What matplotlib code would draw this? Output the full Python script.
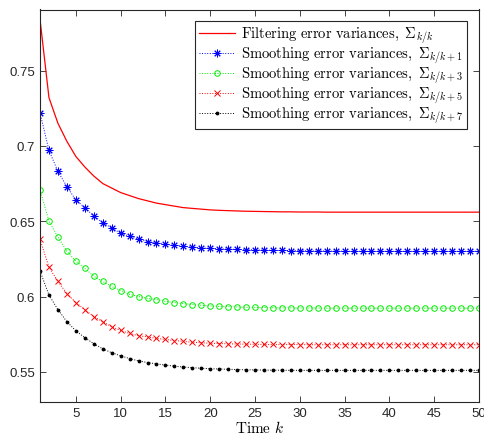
import matplotlib
matplotlib.use('Agg')
import matplotlib.pyplot as plt
from matplotlib.ticker import FormatStrFormatter

plt.rcParams['mathtext.fontset'] = 'cm'
plt.rcParams['font.family'] = ['Liberation Sans', 'DejaVu Sans']

# Time steps
k = list(range(1, 51))

# Filtering error variances
filt = [0.784, 0.732, 0.715, 0.703, 0.693, 0.686, 0.680, 0.675, 0.672, 0.669,
        0.667, 0.665, 0.6635, 0.662, 0.661, 0.660, 0.659, 0.6585, 0.658, 0.6575,
        0.6572, 0.6570, 0.6568, 0.6566, 0.6565, 0.6564, 0.6563, 0.6562, 0.6562, 0.6561,
        0.6561, 0.6561, 0.6560, 0.6560, 0.6560, 0.6560, 0.6560, 0.6560, 0.6560, 0.6560,
        0.6560, 0.6560, 0.6560, 0.6560, 0.6560, 0.6560, 0.6560, 0.6560, 0.6560, 0.6560]

# Smoothing error variances, lag 1
smooth1 = [0.722, 0.697, 0.683, 0.673, 0.664, 0.659, 0.6535, 0.649, 0.6455, 0.642,
           0.640, 0.638, 0.6365, 0.6355, 0.6347, 0.634, 0.6333, 0.6328, 0.6323, 0.632,
           0.6317, 0.6315, 0.6313, 0.6311, 0.631, 0.6308, 0.6307, 0.6306, 0.6305, 0.6304,
           0.6303, 0.6302, 0.6302, 0.6301, 0.6301, 0.6300, 0.6300, 0.6300, 0.6300, 0.6300,
           0.6300, 0.6300, 0.6300, 0.6300, 0.6300, 0.6300, 0.6300, 0.6300, 0.6300, 0.6300]

# Smoothing error variances, lag 3
smooth3 = [0.671, 0.650, 0.6395, 0.630, 0.6235, 0.6187, 0.6135, 0.610, 0.6067, 0.604,
           0.6015, 0.600, 0.5988, 0.598, 0.5968, 0.596, 0.5953, 0.5947, 0.5942, 0.5938,
           0.5935, 0.5933, 0.5931, 0.5929, 0.5928, 0.5927, 0.5926, 0.5925, 0.5925, 0.5924,
           0.5924, 0.5924, 0.5923, 0.5923, 0.5923, 0.5923, 0.5923, 0.5923, 0.5923, 0.5923,
           0.5923, 0.5923, 0.5923, 0.5923, 0.5923, 0.5923, 0.5923, 0.5923, 0.5923, 0.5923]

# Smoothing error variances, lag 5
smooth5 = [0.638, 0.6195, 0.610, 0.602, 0.596, 0.5913, 0.5867, 0.5833, 0.580, 0.5775,
           0.5755, 0.574, 0.5732, 0.5722, 0.5715, 0.5708, 0.5702, 0.5697, 0.5693, 0.569,
           0.5688, 0.5686, 0.5685, 0.5684, 0.5683, 0.5682, 0.5682, 0.5681, 0.5681, 0.5681,
           0.5680, 0.5680, 0.5680, 0.5680, 0.5680, 0.5680, 0.5680, 0.5680, 0.5680, 0.5680,
           0.5680, 0.5680, 0.5680, 0.5680, 0.5680, 0.5680, 0.5680, 0.5680, 0.5680, 0.5680]

# Smoothing error variances, lag 7
smooth7 = [0.617, 0.601, 0.5913, 0.5833, 0.5773, 0.5727, 0.5687, 0.5653, 0.5627, 0.5607,
           0.5588, 0.5573, 0.5562, 0.5553, 0.5545, 0.5538, 0.5532, 0.5528, 0.5524, 0.5521,
           0.5519, 0.5517, 0.5515, 0.5514, 0.5513, 0.5512, 0.5511, 0.5511, 0.5510, 0.5510,
           0.5510, 0.5510, 0.5510, 0.5510, 0.5510, 0.5510, 0.5510, 0.5510, 0.5510, 0.5510,
           0.5510, 0.5510, 0.5510, 0.5510, 0.5510, 0.5510, 0.5510, 0.5510, 0.5510, 0.5510]

fig = plt.figure(figsize=(4.85, 4.39), dpi=100)
ax = fig.add_axes([40 / 485, 36 / 439, 439 / 485, 392.5 / 439])

ax.plot(k, filt, color='red', lw=0.9,
        label=r'$\mathrm{Filtering\ error\ variances},\ \Sigma_{k/k}$')
ax.plot(k, smooth1, color='blue', ls=':', lw=0.7, marker=(8, 2, 0), ms=5.5, mew=0.7,
        label=r'$\mathrm{Smoothing\ error\ variances},\ \Sigma_{k/k+1}$')
ax.plot(k, smooth3, color='#00ee00', ls=':', lw=0.7, marker='o', ms=4, mfc='none', mew=0.7,
        label=r'$\mathrm{Smoothing\ error\ variances},\ \Sigma_{k/k+3}$')
ax.plot(k, smooth5, color='red', ls=':', lw=0.7, marker='x', ms=4.5, mew=0.7,
        label=r'$\mathrm{Smoothing\ error\ variances},\ \Sigma_{k/k+5}$')
ax.plot(k, smooth7, color='black', ls=':', lw=0.7, marker='.', ms=3.5,
        label=r'$\mathrm{Smoothing\ error\ variances},\ \Sigma_{k/k+7}$')

ax.set_xlim(1, 50)
ax.set_ylim(0.53, 0.7905)
ax.set_xticks(range(5, 51, 5))
ax.set_yticks([0.55, 0.6, 0.65, 0.7, 0.75])
ax.yaxis.set_major_formatter(FormatStrFormatter('%g'))
ax.tick_params(direction='in', top=True, right=True, length=4, width=0.6,
               colors='#262626', labelsize=9.5, labelcolor='#262626')
for s in ax.spines.values():
    s.set_color('#262626')
    s.set_linewidth(0.8)

ax.set_xlabel(r'$\mathrm{Time}\ k$', fontsize=11, labelpad=0)

leg = ax.legend(loc='upper right', fontsize=10.5, fancybox=False, framealpha=1,
                edgecolor='#262626', borderpad=0.25, labelspacing=-0.05,
                handlelength=2.5, handletextpad=0.4, borderaxespad=0.8)
leg.get_frame().set_linewidth(0.8)

fig.savefig('out.png', dpi=100)
